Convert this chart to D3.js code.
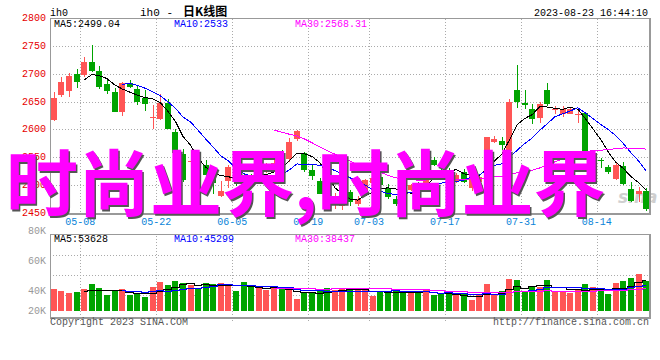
<!DOCTYPE html>
<html><head><meta charset="utf-8">
<script src="https://cdn.jsdelivr.net/npm/d3@7/dist/d3.min.js"></script>
<style>
body{margin:0;background:#fff}
svg text{font-family:"Liberation Mono","DejaVu Sans Mono",monospace;font-size:10px}
</style>
</head><body>
<svg id="chart" width="660" height="360"></svg>
<script>
// ---------------- data ----------------
const dates = ["04-27","04-28","05-04","05-05","05-08","05-09","05-10","05-11","05-12","05-15",
"05-16","05-17","05-18","05-19","05-22","05-23","05-24","05-25","05-26","05-29",
"05-30","05-31","06-01","06-02","06-05","06-06","06-07","06-08","06-09","06-12",
"06-13","06-14","06-15","06-16","06-19","06-20","06-21","06-26","06-27","06-28",
"06-29","06-30","07-03","07-04","07-05","07-06","07-07","07-10","07-11","07-12",
"07-13","07-14","07-17","07-18","07-19","07-20","07-21","07-24","07-25","07-26",
"07-27","07-28","07-31","08-01","08-02","08-03","08-04","08-07","08-08","08-09",
"08-10","08-11","08-14","08-15","08-16","08-17","08-18","08-21","08-22"];
const opens = [2617,2661,2669,2700,2697,2721,2705,2682,2667,2631,
2683,2673,2657,2622,2619,2647,2595,2556,2543,2548,
2537,2518,2480,2508,2527,2516,2515,2523,2527,2530,
2548,2547,2582,2557,2527,2508,2478,2470,2462,2488,
2467,2485,2503,2515,2494,2475,2490,2491,2504,2497,
2546,2528,2526,2506,2524,2494,2505,2548,2577,2580,
2561,2670,2648,2637,2621,2670,2634,2627,2628,2627,
2630,2541,2546,2532,2511,2534,2493,2485,2490];
const highs = [2667,2694,2701,2708,2730,2752,2714,2688,2675,2685,
2689,2678,2670,2643,2663,2655,2600,2565,2559,2552,
2545,2522,2507,2537,2537,2520,2520,2535,2540,2545,
2563,2584,2599,2560,2537,2512,2483,2486,2480,2492,
2480,2511,2516,2518,2502,2480,2495,2502,2505,2550,
2550,2532,2530,2521,2529,2527,2520,2586,2589,2586,
2655,2716,2671,2646,2650,2684,2642,2642,2641,2634,
2632,2553,2549,2537,2540,2542,2505,2497,2494];
const lows = [2615,2658,2659,2675,2694,2703,2673,2664,2631,2624,
2675,2643,2633,2600,2617,2600,2557,2505,2518,2525,
2492,2485,2478,2495,2498,2500,2505,2518,2522,2526,
2530,2542,2580,2524,2510,2484,2466,2457,2455,2462,
2462,2482,2498,2498,2475,2462,2478,2490,2494,2495,
2535,2515,2518,2503,2503,2490,2500,2545,2575,2563,
2560,2638,2636,2609,2611,2642,2628,2623,2628,2611,
2556,2530,2530,2520,2509,2500,2470,2470,2453];
const closes = [2656,2685,2696,2686,2721,2704,2676,2669,2631,2683,
2676,2649,2646,2623,2647,2600,2558,2510,2544,2531,
2519,2503,2489,2533,2516,2505,2509,2532,2532,2540,
2537,2578,2598,2528,2516,2485,2470,2478,2472,2470,
2476,2509,2512,2500,2479,2466,2483,2500,2496,2545,
2537,2519,2522,2518,2506,2524,2515,2586,2583,2572,
2650,2650,2643,2618,2645,2645,2637,2636,2636,2628,
2558,2546,2543,2523,2536,2502,2472,2490,2457];
const volumes = [38700,35200,31600,33400,38700,47600,40500,28000,37000,38700,
28000,29800,24500,42300,51200,45900,53000,50000,45900,38700,
49400,47600,49400,47600,35200,51200,42300,42300,37000,40500,
42300,37000,20900,33400,33400,37000,40500,37000,40500,37000,
40500,38700,26200,33400,35200,38700,35200,31600,33400,38700,
28000,29800,29800,28000,31600,19100,28000,47600,28000,35200,
56600,54800,35200,44100,42300,54800,35200,35200,31600,38700,
47600,42300,35200,29800,49400,53000,58400,65500,53000];
const priceTicks = [2450,2500,2550,2600,2650,2700,2750,2800];
const volTickValues = [80000,60000,40000,20000];
const volTickLabels = ["80K","60K","40K","20K"];
const dateTicks = ["05-08","05-22","06-05","06-19","07-03","07-17","07-31","08-14"];
const priceMALabels = ["MA5:2499.04","MA10:2533","MA30:2568.31"];
const volMALabels = ["MA5:53628","MA10:45299","MA30:38437"];
const maPeriods = [5,10,30];
const symbol = "ih0";
const titleCode = "ih0 - ";
const titleName = "日K线图";
const timestamp = "2023-08-23 16:44:10";
const copyright = "Copyright 2023 SINA.COM";
const siteUrl = "http://finance.sina.com.cn";
const watermark = "时尚业界,时尚业界";

// ---------------- drawing ----------------
const RED = "#ff5555", GREEN = "#00a400";
const maColors = ["#000000","#0000ff","#ff00ff"];
const svg = d3.select("#chart");
svg.append("rect").attr("width",660).attr("height",360).attr("fill","#fff");

const L = 50, R = 650;
const x = d3.scaleBand().domain(dates).range([L, R]).padding(0);
const step = x.step();
const cx = d => x(d) + step / 2;
const y = d3.scaleLinear().domain([2450, 2800]).range([213, 18]);
const vy = d3.scaleLinear().domain([0, 100000]).range([311, 255]);
const vLab = d3.scaleLinear().domain([20000, 40000, 80000]).range([310.7, 290.7, 230.7]);
const vGrid = d3.scaleLinear().domain([0, 4]).range([235, 315]);

function movingAvg(arr, n) {
  return arr.map((v, i) => i < n - 1 ? null : d3.mean(arr.slice(i - n + 1, i + 1)));
}

const gridStyle = s => s.attr("stroke","#aaa").attr("stroke-width",1)
  .attr("stroke-dasharray","1,2").attr("shape-rendering","crispEdges");

// main panel grid
const gMain = svg.append("g");
gMain.selectAll(".hg").data(priceTicks.filter(t => t > 2450 && t < 2800)).join("line")
  .attr("x1", L).attr("x2", 649).attr("y1", d => Math.round(y(d)) + 0.5).attr("y2", d => Math.round(y(d)) + 0.5)
  .call(gridStyle);
gMain.selectAll(".vg").data(dateTicks).join("line")
  .attr("x1", d => Math.round(x(d)) + 0.5).attr("x2", d => Math.round(x(d)) + 0.5)
  .attr("y1", 19).attr("y2", 216).call(gridStyle);

// volume panel grid
const gVol = svg.append("g");
gVol.selectAll("line.h").data([1,2,3]).join("line")
  .attr("x1", L).attr("x2", 649).attr("y1", d => vGrid(d) + 0.5).attr("y2", d => vGrid(d) + 0.5)
  .call(gridStyle);
gVol.selectAll("line.v").data(dateTicks).join("line")
  .attr("x1", d => Math.round(x(d)) + 0.5).attr("x2", d => Math.round(x(d)) + 0.5)
  .attr("y1", 236).attr("y2", 321).call(gridStyle);

// sina logo watermark
svg.append("text").attr("x", 618).attr("y", 203).text("sina")
  .style("font-family","'DejaVu Sans',sans-serif").style("font-size","17px")
  .style("font-weight","bold").style("font-style","italic").attr("fill","#cfcfcf");

// candles
const idx = d3.range(dates.length);
const isUp = i => closes[i] >= opens[i];
const gC = svg.append("g").attr("shape-rendering","crispEdges");
gC.selectAll("rect.w").data(idx).join("rect")
  .attr("x", i => Math.round(cx(dates[i]) - 3) + 3 - 0.5 - 0.5 + 0.5)
  .attr("width", 1)
  .attr("y", i => y(highs[i])).attr("height", i => Math.max(1, y(lows[i]) - y(highs[i])))
  .attr("fill", i => isUp(i) ? RED : GREEN);
gC.selectAll("rect.b").data(idx).join("rect")
  .attr("x", i => Math.round(cx(dates[i]) - 3))
  .attr("width", 6)
  .attr("y", i => y(Math.max(opens[i], closes[i])))
  .attr("height", i => Math.max(1, Math.abs(y(opens[i]) - y(closes[i]))))
  .attr("fill", i => isUp(i) ? RED : GREEN);

// price MAs
maPeriods.forEach((n, k) => {
  const m = movingAvg(closes, n);
  const line = d3.line().defined(i => m[i] != null).x(i => cx(dates[i])).y(i => y(m[i]));
  svg.append("path").attr("d", line(idx)).attr("fill","none")
    .attr("stroke", maColors[k]).attr("stroke-width",1).attr("shape-rendering","crispEdges");
});

// volume bars
svg.append("g").attr("shape-rendering","crispEdges").selectAll("rect").data(idx).join("rect")
  .attr("x", i => Math.round(cx(dates[i]) - 3)).attr("width", 6)
  .attr("y", i => vy(volumes[i])).attr("height", i => vy(0) - vy(volumes[i]))
  .attr("fill", i => isUp(i) ? RED : GREEN);

// volume MAs
maPeriods.forEach((n, k) => {
  const m = movingAvg(volumes, n);
  const line = d3.line().defined(i => m[i] != null).curve(d3.curveStep)
    .x(i => cx(dates[i])).y(i => Math.round(vy(m[i])) + 0.5);
  svg.append("path").attr("d", line(idx)).attr("fill","none")
    .attr("stroke", maColors[k]).attr("stroke-width",1).attr("shape-rendering","crispEdges");
});

// frames
const frame = (x0, y0, x1, y1) => {
  svg.append("path").attr("d", `M${x0+0.5},${y0+0.5}H${x1}V${y1}H${x0+0.5}Z`)
    .attr("fill","none").attr("stroke","#999").attr("stroke-width",1).attr("shape-rendering","crispEdges");
  svg.append("path").attr("d", `M${x1},${y0}V${y1}H${x0}`)
    .attr("fill","none").attr("stroke","#999").attr("stroke-width",2).attr("shape-rendering","crispEdges");
};
frame(50, 18, 649.5, 213.5);
frame(50, 234, 649.5, 318);

// price axis labels
svg.selectAll("text.py").data(priceTicks).join("text")
  .attr("x", 46).attr("y", d => y(d) + 3).attr("text-anchor","end")
  .attr("fill", "#e60000").text(d => d);

// date labels
svg.selectAll("text.dx").data(dateTicks).join("text")
  .attr("x", d => x(d)).attr("y", 224.5).attr("text-anchor","middle")
  .attr("fill", "#0b84d8").text(d => d);

// volume axis labels
svg.selectAll("text.vl").data(volTickValues).join("text")
  .attr("x", 46).attr("y", d => vLab(d) + 3.5).attr("text-anchor","end")
  .attr("fill", "#999").text((d, i) => volTickLabels[i]);

// header texts
const maX = [54, 174, 295];
priceMALabels.forEach((t, k) => svg.append("text").attr("x", maX[k]).attr("y", 26.5).attr("fill", maColors[k]).text(t));
volMALabels.forEach((t, k) => svg.append("text").attr("x", maX[k]).attr("y", 241.5).attr("fill", maColors[k]).text(t));
svg.append("text").attr("x", 50).attr("y", 16).attr("fill","#000").text(symbol);
const title = svg.append("text").attr("x", 140).attr("y", 15.5).attr("fill","#000");
title.append("tspan").style("font-size","11px").text(titleCode);
title.append("tspan").attr("x", 183).style("font-family","'Noto Sans CJK SC',sans-serif")
  .style("font-size","12px").style("font-weight","bold").text(titleName);
svg.append("text").attr("x", 648).attr("y", 15.5).attr("text-anchor","end").attr("fill","#000").text(timestamp);
svg.append("text").attr("x", 50).attr("y", 325).attr("fill","#555").text(copyright);
svg.append("text").attr("x", 649).attr("y", 325).attr("text-anchor","end").attr("fill","#555").text(siteUrl);

// big overlay text
const wm = svg.append("g").style("font-family","'Noto Sans CJK SC',sans-serif")
  .style("font-size","72px").style("font-weight","bold");
wm.append("text").attr("x", 7.5).attr("y", 211.5).attr("fill","#555").text(watermark)
  .style("font-family","'Noto Sans CJK SC',sans-serif").style("font-size","72px");
wm.append("text").attr("x", 6).attr("y", 210).attr("fill","#ff00ff").text(watermark)
  .style("font-family","'Noto Sans CJK SC',sans-serif").style("font-size","72px");
</script>
</body></html>
